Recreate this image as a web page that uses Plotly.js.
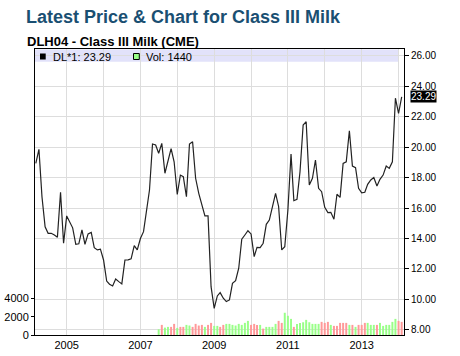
<!DOCTYPE html>
<html>
<head>
<meta charset="utf-8">
<script src="https://cdn.plot.ly/plotly-3.0.1.min.js"></script>
<style>html,body{margin:0;padding:0;background:#fff}#chart{width:460px;height:356px}</style>
</head>
<body>
<div id="chart"></div>
<script>
// ---- data ----
var startYear = 2004, startMonth = 3; // first monthly point: Mar 2004
var prices = [18.93,19.85,16.74,14.77,14.34,14.34,14.23,14.08,17.03,13.69,
  15.48,15.1,14.7,13.62,13.65,14.56,13.62,14.3,14.4,13.4,
  13.25,13.3,12.59,11.21,11.0,10.89,11.34,11.17,11.02,12.59,
  12.6,12.67,13.53,13.25,14.0,14.45,15.87,17.18,20.2,20.13,
  19.59,20.24,18.28,19.1,19.9,19.03,16.89,18.16,18.05,16.74,
  20.2,20.35,17.95,16.96,16.2,15.48,15.48,10.84,9.42,10.23,
  10.45,10.08,9.86,9.97,11.06,11.23,12.05,13.95,14.23,14.51,
  14.3,12.81,13.42,13.4,13.69,14.93,15.21,16.2,16.96,16.1,
  13.25,13.46,15.87,19.54,16.48,16.57,18.38,21.44,21.66,17.51,
  17.95,19.15,17.29,17.07,16.04,15.7,15.72,15.26,16.9,16.7,
  18.93,19.03,21.07,18.75,18.64,17.29,17.0,17.03,17.55,17.84,
  18.0,17.44,17.88,18.16,18.75,18.6,19.03,23.2,22.2,23.29];
// volume starts Jul 2007 (41st monthly point)
var volStartIndex = 40;
var volumes = [630,1110,810,890,890,1220,780,890,890,1110,
  1040,890,1220,1040,1110,890,1110,1330,1000,1000,
  890,1110,1220,1220,1110,1040,1220,1110,1330,1550,
  1110,1220,1110,1110,700,890,890,890,1220,1550,
  1330,2440,2110,1770,890,1220,1330,1400,1660,1400,
  1220,1220,1220,1440,1330,1440,1110,1000,1000,1330,
  1330,1330,1110,1110,890,1110,1110,1330,1330,1110,
  1110,1110,1330,1000,1110,1110,1440,1770,1550,1440];
var volUp = [1,0,1,1,0,0,1,0,0,1,
  1,0,0,0,0,1,0,0,1,1,
  0,0,1,1,1,1,1,1,1,1,
  0,0,0,1,0,1,1,1,1,0,
  0,1,1,1,0,1,1,1,1,1,
  1,1,1,0,0,0,1,0,0,0,
  0,0,1,0,1,0,0,0,1,1,
  1,0,1,1,1,1,1,1,0,0];
var priceTicks = [8,10,12,14,16,18,20,22,24,26];
var volTicks = [0,2000,4000];
var lastPrice = 23.29, lastVol = 1440;
var symbolTitle = "Latest Price & Chart for Class III Milk";
var symbolName = "DLH04 - Class III Milk (CME)";

// ---- build ----
function pad(n){return (n<10?'0':'')+n;}
var dates = prices.map(function(_, i){
  var m = startMonth - 1 + i;
  var y = startYear + Math.floor(m/12);
  return y + '-' + pad(m%12 + 1) + '-01';
});
var volDates = dates.slice(volStartIndex, volStartIndex + volumes.length);
var volColors = volUp.map(function(u){return u ? '#99ff88' : '#ff9999';});

var font = "Arial, 'Liberation Sans', sans-serif";
var traces = [
  {type:'bar', x:volDates, y:volumes, yaxis:'y', marker:{color:volColors, line:{width:0}},
   hoverinfo:'skip', showlegend:false},
  {type:'scatter', mode:'lines', x:dates, y:prices, yaxis:'y2',
   line:{color:'#222222', width:1.2}, hoverinfo:'skip', showlegend:false}
];

function px2paperX(p){return (p-35)/369;}
function px2paperY(p){return 1-(p-49)/286;}

var layout = {
  width:460, height:356,
  margin:{l:35, r:56, t:49, b:21},
  paper_bgcolor:'#ffffff', plot_bgcolor:'#ffffff',
  font:{family:font, size:11, color:'#000'},
  bargap:0.3,
  showlegend:false,
  xaxis:{type:'date', range:['2004-02-22','2014-02-24'],
    tick0:'2005-01-01', dtick:'M24', tickformat:'%Y',
    showgrid:true, gridcolor:'#dddddd', gridwidth:1,
    minor:{tick0:'2005-01-01', dtick:'M12', showgrid:true, gridcolor:'#dddddd', gridwidth:1},
    showline:true, linecolor:'#000', linewidth:1, mirror:true,
    ticks:'', tickfont:{size:11}, zeroline:false},
  yaxis:{range:[0,31400], tickvals:volTicks, ticktext:volTicks.map(String),
    showgrid:false, zeroline:false, showline:true, linecolor:'#000', linewidth:1,
    ticks:'outside', ticklen:3, tickcolor:'#000', tickfont:{size:11}},
  yaxis2:{overlaying:'y', side:'right', range:[7.67,26.43], tickvals:priceTicks,
    tickformat:'.2f', showgrid:true, gridcolor:'#dddddd', gridwidth:1, zeroline:false,
    showline:true, linecolor:'#000', linewidth:1, ticks:'outside', ticklen:4,
    tickcolor:'#000', tickfont:{size:10}},
  shapes:[
    {type:'rect', xref:'paper', yref:'paper', x0:0, x1:px2paperX(398.5),
     y0:px2paperY(61.7), y1:px2paperY(49.5), fillcolor:'#e2e2fa', line:{width:0}, layer:'below'},
    {type:'rect', xref:'paper', yref:'paper', x0:px2paperX(40), x1:px2paperX(45.7),
     y0:px2paperY(59.5), y1:px2paperY(53.5), fillcolor:'#000', line:{width:0}},
    {type:'rect', xref:'paper', yref:'paper', x0:px2paperX(133.5), x1:px2paperX(139.3),
     y0:px2paperY(59.5), y1:px2paperY(53.5), fillcolor:'#99ff88', line:{color:'#000', width:1}}
  ],
  annotations:[
    {xref:'paper', yref:'paper', x:px2paperX(23.5), y:px2paperY(17.3), xanchor:'left', yanchor:'middle',
     text:'<b>'+symbolTitle+'</b>', showarrow:false, font:{size:18, color:'#1a4f72', family:font}},
    {xref:'paper', yref:'paper', x:px2paperX(25), y:px2paperY(41.9), xanchor:'left', yanchor:'middle',
     text:'<b>'+symbolName+'</b>', showarrow:false, font:{size:13, color:'#000', family:font}},
    {xref:'paper', yref:'paper', x:px2paperX(51), y:px2paperY(56.6), xanchor:'left', yanchor:'middle',
     text:'DL*1: '+lastPrice.toFixed(2), showarrow:false, font:{size:11, color:'#000', family:font}},
    {xref:'paper', yref:'paper', x:px2paperX(143.5), y:px2paperY(56.6), xanchor:'left', yanchor:'middle',
     text:'Vol: '+lastVol, showarrow:false, font:{size:11, color:'#000', family:font}},
    {xref:'paper', yref:'y2', x:1, y:lastPrice, xanchor:'left', yanchor:'middle', xshift:5.5,
     text:lastPrice.toFixed(2), showarrow:false, bgcolor:'#000', borderpad:0,
     font:{size:10, color:'#fff', family:font}}
  ]
};
Plotly.newPlot('chart', traces, layout, {staticPlot:true, displayModeBar:false});
</script>
</body>
</html>
